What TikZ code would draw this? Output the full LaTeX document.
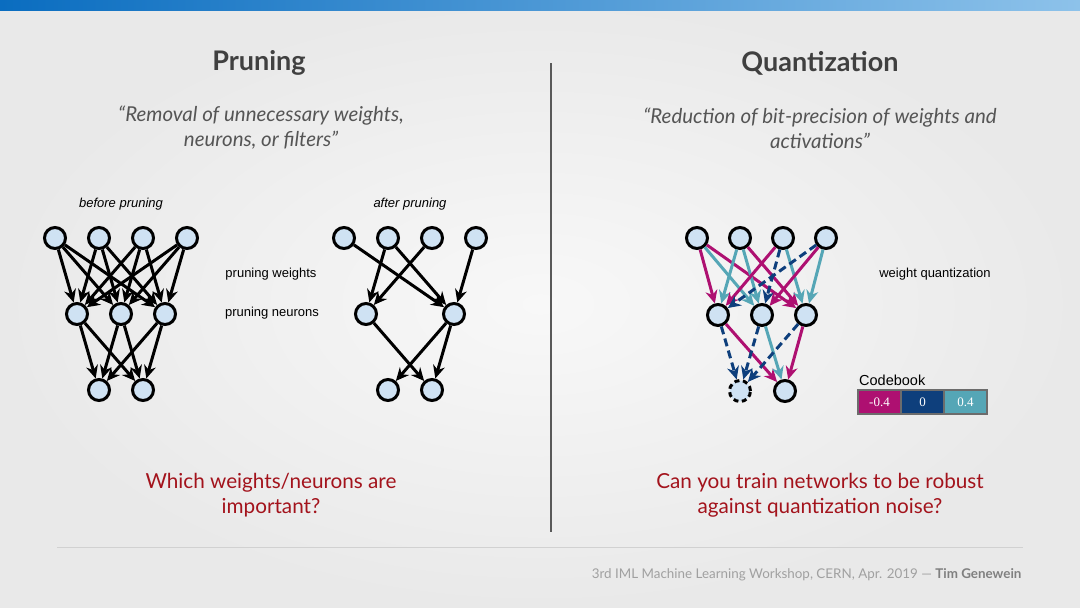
\documentclass[tikz,border=0pt]{standalone}
\usepackage{fontspec}
\setmainfont{Lato}
\newfontfamily\labelfont{Liberation Sans}
\newfontfamily\cellfont{Liberation Serif}
\usetikzlibrary{arrows.meta}
\definecolor{barleft}{HTML}{0A6DC0}
\definecolor{barright}{HTML}{8DC2EA}
\definecolor{bginner}{HTML}{F8F8F8}
\definecolor{bgouter}{HTML}{E9E9E9}
\definecolor{titlegray}{HTML}{404040}
\definecolor{quotegray}{HTML}{555555}
\definecolor{askred}{HTML}{A3131C}
\definecolor{footgray}{HTML}{A0A0A0}
\definecolor{neuronfill}{HTML}{CFE2F3}
\definecolor{qmagenta}{HTML}{AE1071}
\definecolor{qnavy}{HTML}{0E3F7C}
\definecolor{qteal}{HTML}{55A6B6}
\tikzset{
  neuron/.style={circle, draw=black, fill=neuronfill, line width=3pt, minimum size=21pt, inner sep=0pt},
  deadneuron/.style={neuron, dash pattern=on 5pt off 3.5pt},
  wire/.style={line width=3pt, -{Stealth[length=13pt,width=12pt]}},
  zerowire/.style={wire, qnavy, dash pattern=on 8pt off 4.5pt},
  minuswire/.style={wire, qmagenta},
  pluswire/.style={wire, qteal},
  cell/.style={draw=gray!85!black, line width=1.6pt, minimum width=43pt, minimum height=24pt, inner sep=0pt, text=white, font=\cellfont\fontsize{13}{15}\selectfont}
}
\begin{document}
\begin{tikzpicture}[x=1pt, y=-1pt]
        \useasboundingbox (0,0) rectangle (1080,608);
        % Background and top bar
        \shade [inner color=bginner, outer color=bgouter] (0,0) rectangle (1080,608);
        \shade [left color=barleft, right color=barright] (0,0) rectangle (1080,10);
        
        % Divider and footer line
        \draw [line width=1.5pt, black!65] (551,63) -- (551,532);
        \draw [line width=1pt, black!18] (57,547) -- (1023,547);
        
        % Titles
        \node (prunetitle) at (259,63) {\fontsize{27}{32}\selectfont\bfseries\color{titlegray}Pruning};
        \node (quanttitle) at (820,63) {\fontsize{27}{32}\selectfont\bfseries\color{titlegray}Quantization};
        
        % Quotes
        \node (prunequote) [align=center, text=quotegray, font=\fontsize{20.5}{25}\selectfont\itshape] at (261,128)
          {``Removal of unnecessary weights,\\ neurons, or filters''};
        \node (quantquote) [align=center, text=quotegray, font=\fontsize{20.5}{25}\selectfont\itshape] at (820,128)
          {``Reduction of bit-precision of weights and\\ activations''};
        
        % Questions
        \node (pruneask) [align=center, text=askred, font=\fontsize{20.7}{25}\selectfont] at (271,495)
          {Which weights/neurons are\\ important?};
        \node (quantask) [align=center, text=askred, font=\fontsize{20.7}{25}\selectfont] at (820,495)
          {Can you train networks to be robust\\ against quantization noise?};
        
        % Footer
        \node (footer) [anchor=east, text=footgray, font=\fontsize{13.4}{15}\selectfont] at (1025,575)
          {3rd IML Machine Learning Workshop, CERN, Apr. 2019 --- \textbf{\color{black!50}Tim Genewein}};
        
        % Labels of the networks
        {\labelfont\fontsize{13}{15}\selectfont
        \node (beforelabel) [font=\itshape] at (121,204) {before pruning};
        \node (afterlabel) [font=\itshape] at (410,204) {after pruning};
        \node (weightslabel) at (271,274) {pruning weights};
        \node (neuronslabel) at (272,313) {pruning neurons};
        \node (quantlabel) at (935,274) {weight quantization};
        }
        
        % Network before pruning
        \node [neuron] (a1) at (55,238) {};
        \node [neuron] (a2) at (99,238) {};
        \node [neuron] (a3) at (143,238) {};
        \node [neuron] (a4) at (187,238) {};
        \node [neuron] (b1) at (77,314) {};
        \node [neuron] (b2) at (121,314) {};
        \node [neuron] (b3) at (165,314) {};
        \node [neuron] (c1) at (99,390) {};
        \node [neuron] (c2) at (143,390) {};
        \foreach \i in {1,...,4} \foreach \j in {1,2,3} \draw [wire] (a\i) -- (b\j);
        \foreach \j in {1,2,3} \foreach \k in {1,2} \draw [wire] (b\j) -- (c\k);
        
        % Network after pruning
        \node [neuron] (p1) at (344,238) {};
        \node [neuron] (p2) at (388,238) {};
        \node [neuron] (p3) at (432,238) {};
        \node [neuron] (p4) at (476,238) {};
        \node [neuron] (q1) at (366,314) {};
        \node [neuron] (q3) at (454,314) {};
        \node [neuron] (r1) at (388,390) {};
        \node [neuron] (r2) at (432,390) {};
        \draw [wire] (p1) -- (q3);
        \draw [wire] (p2) -- (q1);
        \draw [wire] (p2) -- (q3);
        \draw [wire] (p3) -- (q1);
        \draw [wire] (p4) -- (q3);
        \draw [wire] (q1) -- (r2);
        \draw [wire] (q3) -- (r1);
        \draw [wire] (q3) -- (r2);
        
        % Network after quantization
        \node [neuron] (u1) at (697,238) {};
        \node [neuron] (u2) at (740,238) {};
        \node [neuron] (u3) at (783,238) {};
        \node [neuron] (u4) at (826,238) {};
        \node [neuron] (v1) at (718,315) {};
        \node [neuron] (v2) at (762,315) {};
        \node [neuron] (v3) at (806,315) {};
        \node [deadneuron] (w1) at (740,391) {};
        \node [neuron] (w2) at (785,391) {};
        \draw [minuswire] (u1) -- (v1);
        \draw [pluswire] (u1) -- (v2);
        \draw [minuswire] (u1) -- (v3);
        \draw [pluswire] (u2) -- (v1);
        \draw [pluswire] (u2) -- (v2);
        \draw [minuswire] (u2) -- (v3);
        \draw [minuswire] (u3) -- (v1);
        \draw [zerowire] (u3) -- (v2);
        \draw [pluswire] (u3) -- (v3);
        \draw [zerowire] (u4) -- (v1);
        \draw [minuswire] (u4) -- (v2);
        \draw [pluswire] (u4) -- (v3);
        \draw [zerowire] (v1) -- (w1);
        \draw [minuswire] (v1) -- (w2);
        \draw [zerowire] (v2) -- (w1);
        \draw [pluswire] (v2) -- (w2);
        \draw [zerowire] (v3) -- (w1);
        \draw [minuswire] (v3) -- (w2);
        
        % Codebook
        \node (codebook) [anchor=south west, inner sep=1pt, font=\labelfont\fontsize{14.5}{16}\selectfont] at (858,387) {Codebook};
        \node [cell, fill=qmagenta] (cminus) at (879.5,402) {-0.4};
        \node [cell, fill=qnavy] (czero) at (922.5,402) {0};
        \node [cell, fill=qteal] (cplus) at (965.5,402) {0.4};
    \end{tikzpicture}
\end{document}
